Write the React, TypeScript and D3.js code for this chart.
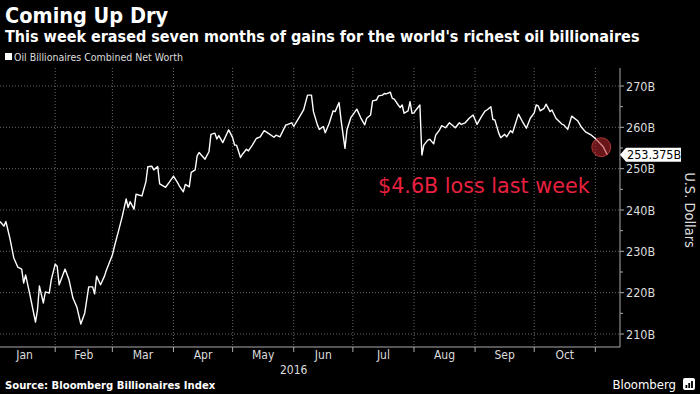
import React from 'react'
import * as d3 from 'd3'

// Oil billionaires combined net worth, billions of US dollars
const dates = [
  '2016-01-04', '2016-01-06', '2016-01-07', '2016-01-09', '2016-01-11', '2016-01-13', '2016-01-15',
  '2016-01-16', '2016-01-17', '2016-01-19', '2016-01-22', '2016-01-23', '2016-01-24', '2016-01-26',
  '2016-01-27', '2016-01-29', '2016-01-30', '2016-02-01', '2016-02-02', '2016-02-03', '2016-02-06',
  '2016-02-08', '2016-02-10', '2016-02-12', '2016-02-14', '2016-02-16', '2016-02-18', '2016-02-20',
  '2016-02-21', '2016-02-22', '2016-02-24', '2016-02-26', '2016-02-27', '2016-03-01', '2016-03-02',
  '2016-03-04', '2016-03-06', '2016-03-08', '2016-03-09', '2016-03-10', '2016-03-12', '2016-03-13',
  '2016-03-16', '2016-03-18', '2016-03-19', '2016-03-21', '2016-03-22', '2016-03-24', '2016-03-25',
  '2016-03-28', '2016-03-30', '2016-04-01', '2016-04-03', '2016-04-04', '2016-04-06', '2016-04-07',
  '2016-04-09', '2016-04-10', '2016-04-12', '2016-04-13', '2016-04-14', '2016-04-17', '2016-04-19',
  '2016-04-20', '2016-04-22', '2016-04-23', '2016-04-24', '2016-04-26', '2016-04-29', '2016-05-01',
  '2016-05-02', '2016-05-03', '2016-05-05', '2016-05-06', '2016-05-08', '2016-05-09', '2016-05-11',
  '2016-05-13', '2016-05-15', '2016-05-17', '2016-05-19', '2016-05-22', '2016-05-23', '2016-05-25',
  '2016-05-28', '2016-05-29', '2016-05-31', '2016-06-01', '2016-06-03', '2016-06-04', '2016-06-06',
  '2016-06-08', '2016-06-10', '2016-06-11', '2016-06-13', '2016-06-14', '2016-06-16', '2016-06-17',
  '2016-06-19', '2016-06-21', '2016-06-22', '2016-06-24', '2016-06-25', '2016-06-27', '2016-06-28',
  '2016-06-30', '2016-07-01', '2016-07-03', '2016-07-05', '2016-07-07', '2016-07-08', '2016-07-10',
  '2016-07-11', '2016-07-13', '2016-07-14', '2016-07-16', '2016-07-17', '2016-07-18', '2016-07-20',
  '2016-07-21', '2016-07-22', '2016-07-24', '2016-07-25', '2016-07-26', '2016-07-27', '2016-07-29',
  '2016-07-30', '2016-07-31', '2016-08-01', '2016-08-02', '2016-08-04', '2016-08-05', '2016-08-06',
  '2016-08-08', '2016-08-09', '2016-08-11', '2016-08-12', '2016-08-14', '2016-08-15', '2016-08-17',
  '2016-08-19', '2016-08-20', '2016-08-22', '2016-08-24', '2016-08-25', '2016-08-27', '2016-08-29',
  '2016-08-31', '2016-09-02', '2016-09-04', '2016-09-06', '2016-09-07', '2016-09-09', '2016-09-10',
  '2016-09-11', '2016-09-13', '2016-09-14', '2016-09-16', '2016-09-17', '2016-09-19', '2016-09-20',
  '2016-09-23', '2016-09-25', '2016-09-27', '2016-09-29', '2016-10-01', '2016-10-02', '2016-10-03',
  '2016-10-04', '2016-10-06', '2016-10-07', '2016-10-09', '2016-10-10', '2016-10-12', '2016-10-15',
  '2016-10-16', '2016-10-18', '2016-10-20', '2016-10-23', '2016-10-25', '2016-10-27', '2016-10-30',
  '2016-11-01', '2016-11-03', '2016-11-05', '2016-11-07',
]

const worth = [
  237.2, 236.1, 237.2, 233.2, 228.4, 226.2, 225.7,
  222.3, 224.3, 219.9, 212.9, 215.8, 221.6, 217.5,
  220.2, 219.9, 223.1, 226.9, 226.4, 221.9, 225.7,
  223.1, 218.7, 216.5, 212.4, 215.1, 221.4, 221.4,
  219.7, 224.0, 221.9, 224.0, 225.5, 229.1, 231.1,
  234.7, 238.4, 242.7, 240.6, 242.0, 240.2, 243.8,
  243.4, 246.8, 250.5, 250.6, 249.7, 250.5, 246.3,
  245.5, 246.8, 248.2, 246.7, 245.8, 244.4, 246.2,
  245.6, 249.1, 249.7, 253.1, 253.9, 252.3, 254.1,
  258.3, 258.6, 257.2, 258.0, 256.3, 259.4, 257.5,
  255.7, 255.7, 252.7, 253.5, 254.7, 254.3, 255.7,
  257.3, 257.7, 259.2, 258.6, 257.6, 258.1, 257.7,
  260.6, 260.7, 261.1, 260.2, 261.8, 262.6, 264.2,
  267.8, 267.8, 263.8, 260.6, 259.5, 260.2, 258.7,
  261.0, 264.0, 263.8, 266.0, 261.8, 254.9, 259.4,
  262.4, 263.0, 264.4, 262.3, 260.6, 262.2, 263.0,
  266.4, 266.6, 267.6, 267.8, 268.2, 268.1, 268.5,
  267.0, 266.8, 265.4, 264.8, 265.4, 263.4, 264.0,
  266.2, 263.4, 263.5, 264.2, 265.4, 253.3, 255.7,
  256.9, 257.1, 256.0, 258.1, 259.4, 260.4, 259.9,
  261.1, 260.7, 259.9, 261.1, 260.7, 261.1, 262.2,
  263.0, 260.7, 262.4, 263.9, 264.2, 265.0, 261.9,
  261.8, 258.6, 257.5, 258.3, 257.7, 259.2, 258.7,
  263.2, 261.4, 259.8, 262.2, 263.5, 265.4, 265.2,
  264.0, 264.6, 265.6, 263.8, 264.2, 262.2, 260.8,
  260.6, 259.5, 262.7, 261.6, 260.0, 258.9, 258.1,
  257.3, 256.3, 255.3, 253.375,
]

const yTicks = [210, 220, 230, 240, 250, 260, 270]
const monthLabels = ['Jan', 'Feb', 'Mar', 'Apr', 'May', 'Jun', 'Jul', 'Aug', 'Sep', 'Oct']
const lastLabel = '253.375B'
const annotationText = '$4.6B loss last week'
const circleDate = '2016-11-04'
const circleValue = 255.2

const title = 'Coming Up Dry'
const subtitle = "This week erased seven months of gains for the world's richest oil billionaires"
const legendText = 'Oil Billionaires Combined Net Worth'
const sourceText = 'Source: Bloomberg Billionaires Index'

const W = 700
const H = 394
const plotTop = 68
const plotBottom = 347
const plotRight = 620

const cond = "'DejaVu Sans Condensed', 'DejaVu Sans', sans-serif"
const parse = d3.utcParse('%Y-%m-%d')

export default function App() {
  const data = dates.map((d, i) => ({ date: parse(d) as Date, value: worth[i] }))

  const x = d3
    .scaleUtc()
    .domain([parse('2016-01-04') as Date, parse('2016-11-13') as Date])
    .range([0, 619])

  const y = d3.scaleLinear().domain([210, 270]).range([334, 86])

  const line = d3
    .line<{ date: Date; value: number }>()
    .x(d => x(d.date))
    .y(d => y(d.value))

  const monthStarts = d3.utcMonth.range(new Date(Date.UTC(2016, 1, 1)), new Date(Date.UTC(2016, 10, 2)))
  const labelMonths = d3.utcMonth.range(new Date(Date.UTC(2016, 0, 1)), new Date(Date.UTC(2016, 10, 1)))
  const minorTicks = d3.range(215, 275, 10)

  const last = data[data.length - 1]
  const lx = plotRight + 3
  const ly = y(last.value)

  return (
    <svg width={W} height={H} style={{ position: 'absolute', left: 0, top: 0 }}>
      <rect width={W} height={H} fill="#000" />

      {/* titles */}
      <text x={5} y={23} fill="#fff" fontFamily={cond} fontWeight="bold" fontSize={21.5}>
        {title}
      </text>
      <text x={5} y={42} fill="#fff" fontFamily={cond} fontWeight="bold" fontSize={16}>
        {subtitle}
      </text>
      <rect x={5} y={53} width={7} height={7} fill="#fff" />
      <text x={14} y={60.5} fill="#ddd" fontFamily={cond} fontSize={10.5}>
        {legendText}
      </text>

      {/* grid */}
      {yTicks.map(t => (
        <line key={'h' + t} x1={0} x2={plotRight} y1={y(t)} y2={y(t)} stroke="#666" strokeDasharray="1,2" />
      ))}
      {monthStarts.map(m => (
        <line key={'v' + m.getTime()} x1={x(m)} x2={x(m)} y1={plotTop} y2={plotBottom} stroke="#666" strokeDasharray="1,2" />
      ))}

      {/* axes */}
      <line x1={0} x2={plotRight} y1={plotBottom} y2={plotBottom} stroke="#aaa" />
      <line x1={plotRight} x2={plotRight} y1={plotTop} y2={plotBottom} stroke="#aaa" />
      {monthStarts.map(m => (
        <line key={'xt' + m.getTime()} x1={x(m)} x2={x(m)} y1={plotBottom} y2={plotBottom + 5} stroke="#aaa" />
      ))}
      {labelMonths.map((m, i) => {
        const mid = new Date((m.getTime() + d3.utcMonth.offset(m, 1).getTime()) / 2)
        return (
          <text key={'ml' + i} x={x(mid)} y={359} fill="#ddd" fontFamily={cond} fontSize={12} textAnchor="middle">
            {monthLabels[i]}
          </text>
        )
      })}
      <text x={x(new Date(Date.UTC(2016, 5, 1)))} y={374} fill="#ddd" fontFamily={cond} fontSize={12} textAnchor="middle">
        2016
      </text>
      {yTicks.map(t => (
        <g key={'yt' + t}>
          <line x1={plotRight} x2={plotRight + 4} y1={y(t)} y2={y(t)} stroke="#aaa" />
          <text x={plotRight + 6} y={y(t) + 4.5} fill="#ddd" fontFamily={cond} fontSize={12.5}>
            {t}B
          </text>
        </g>
      ))}
      {minorTicks.map(t => (
        <line key={'mt' + t} x1={plotRight} x2={plotRight + 3} y1={y(t)} y2={y(t)} stroke="#aaa" />
      ))}
      <text
        transform={`translate(685,${y(240)}) rotate(90)`}
        fill="#ddd"
        fontFamily={cond}
        fontSize={14.5}
        textAnchor="middle"
      >
        U.S. Dollars
      </text>

      {/* series */}
      <path d={line(data) || ''} fill="none" stroke="#fff" strokeWidth={1.4} strokeLinejoin="round" />

      {/* highlight */}
      <circle
        cx={x(parse(circleDate) as Date)}
        cy={y(circleValue)}
        r={9.5}
        fill="rgba(190,40,45,0.55)"
        stroke="rgba(220,70,70,0.7)"
        strokeWidth={1}
      />
      <text x={378} y={193} fill="#e8203f" fontFamily="'DejaVu Sans', sans-serif" fontSize={20.7}>
        {annotationText}
      </text>

      {/* last value tag */}
      <path
        d={`M${lx - 3},${ly} L${lx + 3},${ly - 7} L${lx + 58},${ly - 7} L${lx + 58},${ly + 7} L${lx + 3},${ly + 7} Z`}
        fill="#fff"
      />
      <text x={lx + 4} y={ly + 4.5} fill="#000" fontFamily={cond} fontSize={12.5}>
        {lastLabel}
      </text>

      {/* footer */}
      <text x={5} y={389} fill="#fff" fontFamily={cond} fontWeight="bold" fontSize={11.2}>
        {sourceText}
      </text>
      <text x={676} y={389} fill="#fff" fontFamily={cond} fontSize={13} textAnchor="end">
        Bloomberg
      </text>
      <rect x={683} y={378} width={12} height={12} rx={2} fill="#fff" />
      {[0, 1, 2].map(i => (
        <rect key={'bl' + i} x={685.5 + i * 2.8} y={385 - i * 2} width={1.8} height={3 + i * 2} fill="#000" />
      ))}
    </svg>
  )
}
